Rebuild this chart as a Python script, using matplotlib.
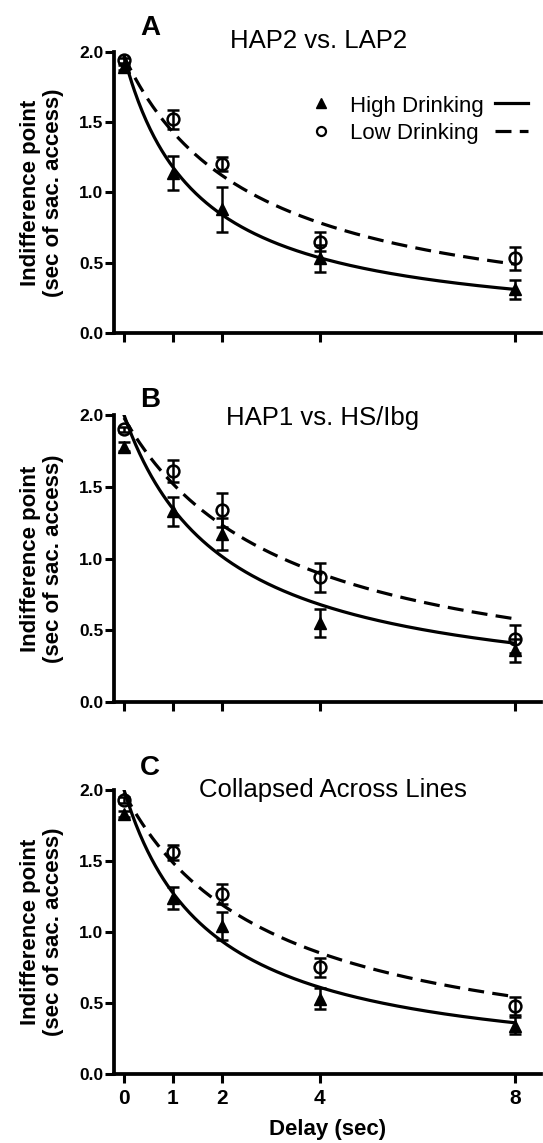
import numpy as np
import matplotlib
matplotlib.use("Agg")
import matplotlib.pyplot as plt

plt.rcParams["font.family"] = ["Liberation Sans", "DejaVu Sans"]

# delays (sec)
delays = [0, 1, 2, 4, 8]

# panel letters and titles
panel_letters = ["A", "B", "C"]
panel_titles = ["HAP2 vs. LAP2", "HAP1 vs. HS/Ibg", "Collapsed Across Lines"]

# indifference points (mean) and SEM
high_mean = [
    [1.89, 1.14, 0.88, 0.53, 0.31],
    [1.78, 1.33, 1.17, 0.55, 0.36],
    [1.83, 1.24, 1.04, 0.53, 0.34],
]
high_sem = [
    [0.02, 0.12, 0.16, 0.095, 0.07],
    [0.03, 0.10, 0.11, 0.10, 0.08],
    [0.02, 0.075, 0.10, 0.075, 0.06],
]
low_mean = [
    [1.94, 1.52, 1.20, 0.65, 0.53],
    [1.90, 1.61, 1.34, 0.87, 0.44],
    [1.93, 1.56, 1.27, 0.75, 0.48],
]
low_sem = [
    [0.02, 0.07, 0.05, 0.07, 0.08],
    [0.02, 0.075, 0.12, 0.10, 0.10],
    [0.02, 0.055, 0.07, 0.07, 0.065],
]

# hyperbolic fits V = A / (1 + k*D)
high_A = [1.97, 2.00, 2.00]
high_k = [0.67, 0.485, 0.569]
low_A = [1.97, 1.98, 1.98]
low_k = [0.378, 0.302, 0.33]

fig = plt.figure(figsize=(5.43, 11.43), dpi=100)

# axes boxes in figure fractions [left, bottom, width, height]
boxes = [
    [0.21, 0.7087, 0.7864, 0.2459],
    [0.21, 0.3858, 0.7864, 0.2511],
    [0.21, 0.0604, 0.7864, 0.2485],
]
letter_y = [1.060, 1.028, 1.053]
title_pos = [(0.478, 1.014), (0.489, 0.965), (0.512, 0.975)]

xfit = np.linspace(0, 8, 300)

for i in range(3):
    ax = fig.add_axes(boxes[i])

    ax.plot(xfit, high_A[i] / (1 + high_k[i] * xfit), color="black", lw=2.3)
    ax.plot(xfit, low_A[i] / (1 + low_k[i] * xfit), color="black", lw=2.3,
            dashes=(5, 2.6))

    ax.errorbar(delays, high_mean[i], yerr=high_sem[i], fmt="^", color="black",
                ms=9, elinewidth=1.8, capsize=4.3, capthick=1.8, zorder=3)
    ax.errorbar(delays, low_mean[i], yerr=low_sem[i], fmt="o", color="black",
                mfc="none", mew=1.8, ms=8.5, elinewidth=1.8, capsize=4.3,
                capthick=1.8, zorder=4)

    ax.set_xlim(-0.2045, 8.53)
    ax.set_ylim(0, 2.0)
    ax.set_xticks(delays)
    ax.set_yticks([0, 0.5, 1.0, 1.5, 2.0])
    ax.set_yticklabels(["0.0", "0.5", "1.0", "1.5", "2.0"])

    for s in ["top", "right"]:
        ax.spines[s].set_visible(False)
    for s in ["left", "bottom"]:
        ax.spines[s].set_linewidth(2.7)

    ax.tick_params(direction="out", length=6.5, width=2.2)
    ax.tick_params(axis="y", labelsize=12.5, pad=1)
    ax.tick_params(axis="x", labelsize=15, pad=4)
    for lab in ax.get_xticklabels() + ax.get_yticklabels():
        lab.set_fontweight("bold")
    if i < 2:
        ax.set_xticklabels([])

    ax.set_ylabel("Indifference point\n(sec of sac. access)", fontsize=16,
                  fontweight="bold", linespacing=1.1)
    ax.yaxis.set_label_coords(-0.118, 0.5)

    ax.text(0.084, letter_y[i], panel_letters[i], transform=ax.transAxes,
            fontsize=20, fontweight="bold", ha="center", va="baseline")
    ax.text(title_pos[i][0], title_pos[i][1], panel_titles[i],
            transform=ax.transAxes, fontsize=18.5, ha="center", va="baseline")

    if i == 0:
        # legend: marker, label, then line sample
        ax.plot([0.485], [0.819], "^", color="black", ms=7, transform=ax.transAxes,
                clip_on=False)
        ax.plot([0.485], [0.719], "o", color="black", mfc="none", mew=1.6, ms=6.5,
                transform=ax.transAxes, clip_on=False)
        ax.text(0.553, 0.7875, "High Drinking", transform=ax.transAxes,
                fontsize=16, va="baseline")
        ax.text(0.553, 0.689, "Low Drinking", transform=ax.transAxes,
                fontsize=16, va="baseline")
        ax.plot([0.892, 0.970], [0.819, 0.819], color="black", lw=2.3,
                transform=ax.transAxes, clip_on=False)
        ax.plot([0.892, 0.970], [0.719, 0.719], color="black", lw=2.3,
                dashes=(5, 2.6), transform=ax.transAxes, clip_on=False)

    if i == 2:
        ax.set_xlabel("Delay (sec)", fontsize=16, fontweight="bold", labelpad=8)

fig.savefig("out.png", dpi=100)
